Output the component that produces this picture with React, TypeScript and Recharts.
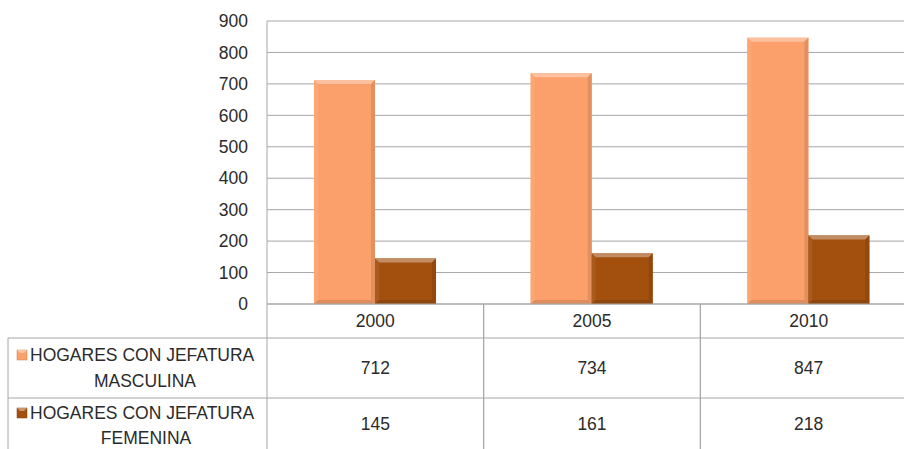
import React from 'react';
import { BarChart, Bar, XAxis, YAxis, CartesianGrid } from 'recharts';

const years = ['2000', '2005', '2010'];
const masculina = [712, 734, 847];
const femenina = [145, 161, 218];
const seriesLabels = ['HOGARES CON JEFATURA MASCULINA', 'HOGARES CON JEFATURA FEMENINA'];
const yTicks = [0, 100, 200, 300, 400, 500, 600, 700, 800, 900];

const data = years.map((y, i) => ({ year: y, masculina: masculina[i], femenina: femenina[i] }));

const LIGHT = '#FCA06B';
const DARK = '#A3500F';
const GRID = '#A6A6A6';
const TEXT = '#2b2b2b';
const FONT = '"Liberation Sans", Arial, sans-serif';
const FS = 17.5;

const shade = (hex: string, amt: number) => {
  const n = parseInt(hex.slice(1), 16);
  let r = (n >> 16) & 255, g = (n >> 8) & 255, b = n & 255;
  const f = (c: number) => Math.max(0, Math.min(255, Math.round(amt > 0 ? c + (255 - c) * amt : c * (1 + amt))));
  r = f(r); g = f(g); b = f(b);
  return `rgb(${r},${g},${b})`;
};

const BevelBar = (props: any) => {
  const { x, y, width, height, fill } = props;
  if (!height || height <= 0) return null;
  const b = Math.min(4, height / 2);
  return (
    <g>
      <rect x={x} y={y} width={width} height={height} fill={fill} />
      <polygon points={`${x},${y} ${x + width},${y} ${x + width - b},${y + b} ${x + b},${y + b}`} fill={shade(fill, 0.35)} />
      <polygon points={`${x},${y} ${x + b},${y + b} ${x + b},${y + height - b} ${x},${y + height}`} fill={shade(fill, 0.06)} />
      <polygon points={`${x + width},${y} ${x + width},${y + height} ${x + width - b},${y + height - b} ${x + width - b},${y + b}`} fill={shade(fill, -0.1)} />
      <polygon points={`${x},${y + height} ${x + width},${y + height} ${x + width - b},${y + height - b} ${x + b},${y + height - b}`} fill={shade(fill, -0.12)} />
    </g>
  );
};

const Icon = ({ x, y, fill }: any) => (
  <g>
    <rect x={x} y={y} width={10} height={10} fill={fill} stroke={shade(fill, -0.2)} strokeWidth={0.5} />
    <polygon points={`${x},${y} ${x + 10},${y} ${x + 7},${y + 3} ${x + 3},${y + 3}`} fill={shade(fill, 0.4)} />
  </g>
);

const TableTick = (props: any) => {
  const { x, y, payload, index } = props;
  const half = payload && payload.offset ? payload.offset : 108;
  const left = x - half;
  const right = x + half;
  const r1 = y + 34;
  const r2 = y + 94;
  const bottom = 460;
  const i = index;
  return (
    <g fontFamily={FONT} fontSize={FS} fill={TEXT}>
      <line x1={left} y1={y} x2={left} y2={bottom} stroke={GRID} strokeWidth={1} />
      <line x1={right} y1={y} x2={right} y2={bottom} stroke={GRID} strokeWidth={1} />
      <line x1={left} y1={r1} x2={right} y2={r1} stroke={GRID} strokeWidth={1} />
      <line x1={left} y1={r2} x2={right} y2={r2} stroke={GRID} strokeWidth={1} />
      <text x={x} y={y + 17} textAnchor="middle" dominantBaseline="central">{payload.value}</text>
      <text x={x} y={y + 64} textAnchor="middle" dominantBaseline="central">{masculina[i]}</text>
      <text x={x} y={y + 120} textAnchor="middle" dominantBaseline="central">{femenina[i]}</text>
      {i === 0 && (
        <g>
          <line x1={8} y1={r1} x2={left} y2={r1} stroke={GRID} />
          <line x1={8} y1={r2} x2={left} y2={r2} stroke={GRID} />
          <line x1={8} y1={r1} x2={8} y2={bottom} stroke={GRID} />
          <Icon x={17} y={y + 46} fill={LIGHT} />
          <text x={30} y={y + 51} textAnchor="start" dominantBaseline="central">{seriesLabels[0].split(' ').slice(0, 3).join(' ')}</text>
          <text x={145} y={y + 77} textAnchor="middle" dominantBaseline="central">{seriesLabels[0].split(' ').slice(3).join(' ')}</text>
          <Icon x={17} y={y + 104} fill={DARK} />
          <text x={30} y={y + 109} textAnchor="start" dominantBaseline="central">{seriesLabels[1].split(' ').slice(0, 3).join(' ')}</text>
          <text x={146} y={y + 134} textAnchor="middle" dominantBaseline="central">{seriesLabels[1].split(' ').slice(3).join(' ')}</text>
        </g>
      )}
    </g>
  );
};

export default function App() {
  return (
    <div style={{ position: 'absolute', left: 0, top: 0, width: 904, height: 449, overflow: 'hidden', background: '#fff' }}>
      <BarChart
        width={917}
        height={449}
        data={data}
        margin={{ top: 21, right: 0, bottom: 0, left: 217 }}
        barCategoryGap="21.7%"
        barGap={0}
      >
        <CartesianGrid vertical={false} stroke={GRID} strokeDasharray="" />
        <YAxis
          width={50}
          domain={[0, 900]}
          ticks={yTicks}
          interval={0}
          axisLine={{ stroke: GRID }}
          tickLine={false}
          tickSize={0}
          tickMargin={19}
          tick={{ fontFamily: FONT, fontSize: FS, fill: TEXT }}
        />
        <XAxis
          dataKey="year"
          height={145}
          axisLine={{ stroke: GRID }}
          tickLine={false}
          tickSize={0}
          tickMargin={0}
          interval={0}
          tick={<TableTick />}
        />
        <Bar dataKey="masculina" fill={LIGHT} isAnimationActive={false} shape={<BevelBar />} />
        <Bar dataKey="femenina" fill={DARK} isAnimationActive={false} shape={<BevelBar />} />
      </BarChart>
    </div>
  );
}
